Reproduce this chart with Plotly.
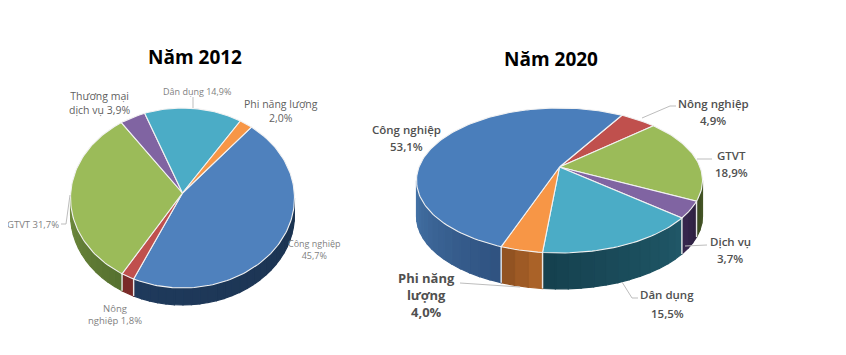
import math
import plotly.graph_objects as go

# ---- data ----
sectors_2012 = ["Công nghiệp", "Nông nghiệp", "GTVT", "Thương mại dịch vụ", "Dân dụng", "Phi năng lượng"]
values_2012 = [45.7, 1.8, 31.7, 3.9, 14.9, 2.0]
sectors_2020 = ["Nông nghiệp", "GTVT", "Dịch vụ", "Dân dụng", "Phi năng lượng", "Công nghiệp"]
values_2020 = [4.9, 18.9, 3.7, 15.5, 4.0, 53.1]

# ---- style ----
top_2012 = ["#4F81BD", "#C0504D", "#9BBB59", "#8064A2", "#4BACC6", "#F79646"]
wall_2012 = [("#1B3350", "#1F3A5C"), ("#7A2A28", "#7A2A28"), ("#55702F", "#6F8A3E"),
             ("#4A3A60", "#4A3A60"), ("#2B6A7C", "#2B6A7C"), ("#B0651F", "#B0651F")]
top_2020 = ["#C0504D", "#9BBB59", "#8064A2", "#4BACC6", "#F79646", "#4A7EBB"]
wall_2020 = [("#7A2A28", "#7A2A28"), ("#4A5A28", "#3A4A20"), ("#2E2140", "#37274E"),
             ("#205868", "#15404E"), ("#B0662A", "#8C4F20"), ("#2F5280", "#4472A6")]


def lerp(c1, c2, f):
    a = [int(c1[i:i + 2], 16) for i in (1, 3, 5)]
    b = [int(c2[i:i + 2], 16) for i in (1, 3, 5)]
    return "#%02x%02x%02x" % tuple(round(a[i] + (b[i] - a[i]) * f) for i in range(3))


def add_pie(fig, values, tops, walls, apex, rx, ry, p, depth, rotation):
    cx, cy = apex

    def pt(deg, dy=0.0):
        t = math.radians(deg)
        w = 1 + p * math.cos(t)
        return cx + rx * math.sin(t) / w, cy - ry * math.cos(t) / w + dy

    total = sum(values)
    edges = [rotation]
    for v in values:
        edges.append(edges[-1] + v / total * 360)
    sil = math.degrees(math.acos(-p))      # silhouette angle of the disc
    lo, hi = sil, 360 - sil

    # walls
    for i in range(len(values)):
        for shift in (-360, 0, 360):
            a = max(edges[i] + shift, lo)
            b = min(edges[i + 1] + shift, hi)
            if b <= a:
                continue
            n = max(1, int((b - a) / 4))
            for k in range(n):
                s0 = a + (b - a) * k / n
                s1 = a + (b - a) * (k + 1) / n
                arc = [s0 + (s1 - s0) * j / 3 for j in range(4)]
                xs, ys = [], []
                for d in arc:
                    x, y = pt(d)
                    xs.append(x); ys.append(y)
                for d in reversed(arc):
                    x, y = pt(d, depth)
                    xs.append(x); ys.append(y)
                xs.append(xs[0]); ys.append(ys[0])
                c = lerp(walls[i][0], walls[i][1], (k + 0.5) / n)
                fig.add_trace(go.Scatter(x=xs, y=ys, mode="lines", fill="toself", fillcolor=c,
                                         line=dict(color=c, width=1.2), hoverinfo="skip"))
    # separators on walls
    for e in edges[:-1]:
        d = e % 360
        if lo < d < hi:
            x0, y0 = pt(d)
            x1, y1 = pt(d, depth)
            fig.add_trace(go.Scatter(x=[x0, x1], y=[y0, y1], mode="lines",
                                     line=dict(color="#E8E8E8", width=1.4), hoverinfo="skip"))
    # top surface
    for i in range(len(values)):
        n = max(4, int((edges[i + 1] - edges[i]) / 1.5))
        pts = [pt(edges[i] + (edges[i + 1] - edges[i]) * j / n) for j in range(n + 1)]
        xs = [cx] + [q[0] for q in pts] + [cx]
        ys = [cy] + [q[1] for q in pts] + [cy]
        fig.add_trace(go.Scatter(x=xs, y=ys, mode="lines", fill="toself", fillcolor=tops[i],
                                 line=dict(color="#F2F2F2", width=1.1), hoverinfo="skip"))


fig = go.Figure()
add_pie(fig, values_2012, top_2012, wall_2012, (182.5, 193), 111.8, 89.7, 0.0556, 17, 40)
add_pie(fig, values_2020, top_2020, wall_2020, (559.5, 167), 140.5, 70, 0.186, 36, 31)

# leader lines (x0, y0, x1, y1, ...)
leaders = [
    [193, 97, 193, 108],
    [61, 224, 66, 224, 70, 195],
    [642, 118, 670, 106, 676, 106],
    [697, 159, 712, 159],
    [685, 246, 707, 245],
    [622, 282, 632, 298, 638, 298],
    [460, 283, 520, 287],
]
for l in leaders:
    fig.add_trace(go.Scatter(x=l[0::2], y=l[1::2], mode="lines",
                             line=dict(color="#BDBDBD", width=1), hoverinfo="skip"))

# text: (string, x, y, size, colour, weight)
GL = "#7F7F7F"
GM = "#5F5F5F"
GD = "#505050"
texts = [
    ("Dân dụng 14,9%", 197, 91, 9, GL, 400),
    ("Thương mại<br>dịch vụ 3,9%", 99, 103, 10.5, GM, 400),
    ("Phi năng lượng<br>2,0%", 281, 110.5, 10.5, GM, 400),
    ("GTVT 31,7%", 33, 224, 9.5, GL, 400),
    ("Công nghiệp<br>45,7%", 314, 249, 9, GL, 400),
    ("Nông<br>nghiệp 1,8%", 115, 314.5, 9.5, GL, 400),
    ("Nông nghiệp", 713, 103, 11.5, GD, 600),
    ("4,9%", 713, 120, 11.5, GD, 600),
    ("GTVT", 731, 155, 11.5, GD, 600),
    ("18,9%", 731, 172, 11.5, GD, 600),
    ("Dịch vụ", 730, 241, 11.5, GD, 600),
    ("3,7%", 730, 258, 11.5, GD, 600),
    ("Dân dụng", 667, 294, 11.5, GD, 600),
    ("15,5%", 667, 313, 11.5, GD, 600),
    ("Công nghiệp", 406, 129, 11.5, GD, 600),
    ("53,1%", 406, 146, 11.5, GD, 600),
    ("Phi năng<br>lượng<br>4,0%", 426, 295, 13, GD, 700),
]
titles = [("Năm 2012", 195, 57), ("Năm 2020", 551, 59)]

ann = []
for s, x, y, size, col, weight in texts:
    ann.append(dict(x=x, y=y, text=s, showarrow=False, xref="x", yref="y",
                    font=dict(family="Open Sans", size=size, color=col, weight=weight)))
for s, x, y in titles:
    ann.append(dict(x=x, y=y, text=s, showarrow=False, xref="x", yref="y",
                    font=dict(family="Open Sans", size=19, color="#000000", weight=700)))

# the page adds an 8 px margin round the figure, so the axes start at 8
fig.update_layout(
    width=838, height=347, margin=dict(l=0, r=0, t=0, b=0),
    paper_bgcolor="white", plot_bgcolor="white", showlegend=False, annotations=ann,
    xaxis=dict(range=[8, 846], visible=False, fixedrange=True),
    yaxis=dict(range=[355, 8], visible=False, fixedrange=True),
)
fig.write_html("out.html", config=dict(displayModeBar=False))
